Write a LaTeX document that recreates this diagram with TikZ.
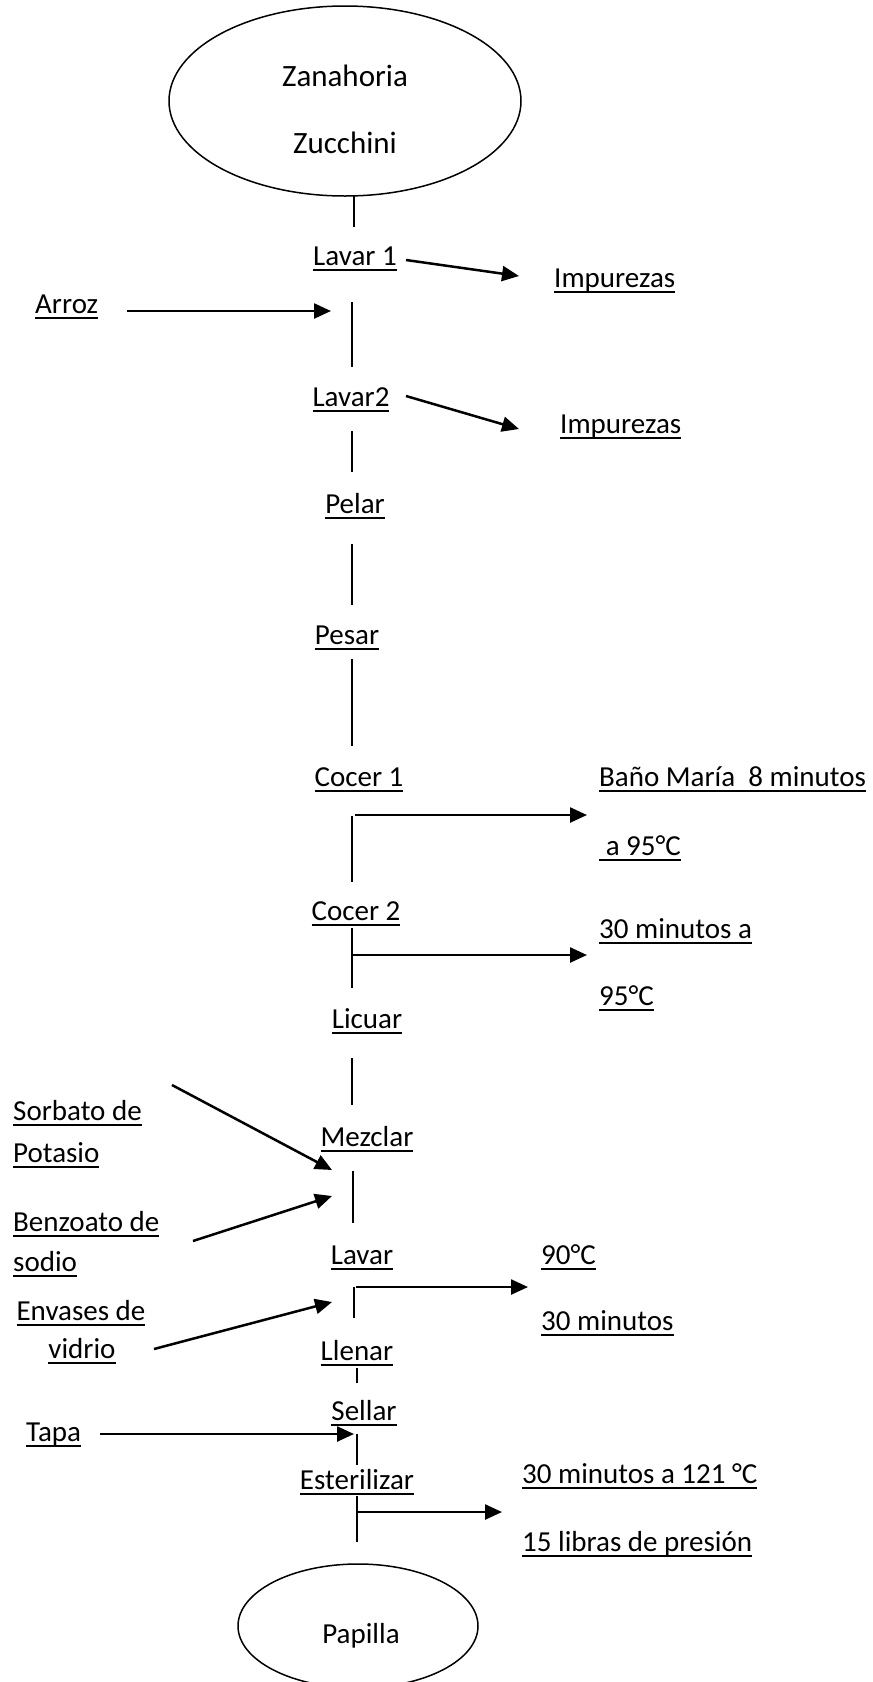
\documentclass[tikz,border=0pt]{standalone}
\usepackage{fontspec}
\setmainfont{Carlito}
\usetikzlibrary{arrows.meta,shapes.geometric}

\newcommand\ulbox[1]{\leavevmode\setbox0\hbox{#1}\rlap{\rule[-5.3pt]{\wd0}{2pt}}\box0}

\begin{document}
\begin{tikzpicture}[x=1pt,y=-1pt,
	txt/.style={inner sep=0pt,font=\fontsize{29}{35}\selectfont,text height=20pt,text depth=7pt},
	big/.style={txt,font=\fontsize{31}{37}\selectfont},
	seg/.style={line width=1.5pt},
	flow/.style={line width=2.5pt,-{Triangle[length=17pt,width=15pt]}},
	oval/.style={draw,ellipse,line width=1.5pt,inner sep=0pt}]
	\useasboundingbox (0,0) rectangle (873,1682);

	\node[oval,minimum width=352pt,minimum height=190pt] (materia) at (345,101) {};
	\node[big] (zanahoria) at (345,80) {Zanahoria};
	\node[big] (zucchini) at (345,147) {Zucchini};

	\node[txt] (lavarA) at (355,259) {\ulbox{Lavar 1}};
	\node[txt,anchor=west] (impA) at (554,281) {\ulbox{Impurezas}};
	\node[txt,anchor=west] (arroz) at (35,307) {\ulbox{Arroz}};
	\node[txt] (lavarB) at (351,400) {\ulbox{Lavar2}};
	\node[txt,anchor=west] (impB) at (560,427) {\ulbox{Impurezas}};
	\node[txt] (pelar) at (355,507) {\ulbox{Pelar}};
	\node[txt] (pesar) at (347,638) {\ulbox{Pesar}};
	\node[txt] (cocerA) at (359,780) {\ulbox{Cocer 1}};
	\node[txt,anchor=west] (banoA) at (599,780) {\ulbox{Baño María\ \ 8 minutos}};
	\node[txt,anchor=west] (banoB) at (599,849) {\ulbox{\ a 95°C}};
	\node[txt] (cocerB) at (356,914) {\ulbox{Cocer 2}};
	\node[txt,anchor=west] (tiempoA) at (599,932) {\ulbox{30 minutos a}};
	\node[txt,anchor=west] (tiempoB) at (599,999) {\ulbox{95°C}};
	\node[txt] (licuar) at (367,1022) {\ulbox{Licuar}};
	\node[txt,anchor=west] (sorbatoA) at (13,1114) {\ulbox{Sorbato de}};
	\node[txt,anchor=west] (sorbatoB) at (13,1156) {\ulbox{Potasio}};
	\node[txt] (mezclar) at (367,1140) {\ulbox{Mezclar}};
	\node[txt,anchor=west] (benzoatoA) at (13,1225) {\ulbox{Benzoato de}};
	\node[txt,anchor=west] (benzoatoB) at (13,1265) {\ulbox{sodio}};
	\node[txt] (lavar) at (362,1258) {\ulbox{Lavar}};
	\node[txt,anchor=west] (temp) at (541,1258) {\ulbox{90°C}};
	\node[txt,anchor=west] (tiempo) at (541,1324) {\ulbox{30 minutos}};
	\node[txt] (envasesA) at (81,1314) {\ulbox{Envases de}};
	\node[txt] (envasesB) at (82,1352) {\ulbox{vidrio}};
	\node[txt] (llenar) at (357,1354) {\ulbox{Llenar}};
	\node[txt] (sellar) at (364,1414) {\ulbox{Sellar}};
	\node[txt,anchor=west] (tapa) at (26,1435) {\ulbox{Tapa}};
	\node[txt] (esterilizar) at (357,1483) {\ulbox{Esterilizar}};
	\node[txt,anchor=west] (esterA) at (522,1477) {\ulbox{30 minutos a 121 °C}};
	\node[txt,anchor=west] (esterB) at (522,1545) {\ulbox{15 libras de presión}};

	\node[oval,minimum width=240pt,minimum height=124pt] (papilla) at (358,1626) {};
	\node[txt] (papillaT) at (361,1637) {Papilla};

	\draw[seg] (354,196) -- (354,227);
	\draw[seg] (352,302) -- (352,367);
	\draw[seg] (352,431) -- (352,472);
	\draw[seg] (352,544) -- (352,605);
	\draw[seg] (352,659) -- (352,746);
	\draw[seg] (352,816) -- (352,882);
	\draw[seg] (352,928) -- (352,988);
	\draw[seg] (352,1058) -- (352,1105);
	\draw[seg] (353,1171) -- (353,1223);
	\draw[seg] (354,1287) -- (354,1318);
	\draw[seg] (357,1368) -- (357,1383);
	\draw[seg] (357,1434) -- (357,1465);
	\draw[seg] (357,1496) -- (357,1542);

	\draw[flow] (406,260) -- (519,276);
	\draw[flow] (127,311) -- (331,311);
	\draw[flow] (406,396) -- (519,429);
	\draw[flow] (355,815) -- (587,815);
	\draw[flow] (352,955) -- (587,955);
	\draw[flow] (172,1085) -- (332,1170);
	\draw[flow] (193,1241) -- (332,1196);
	\draw[flow] (356,1287) -- (528,1287);
	\draw[flow] (154,1349) -- (332,1302);
	\draw[flow] (100,1434) -- (354,1434);
	\draw[flow] (357,1512) -- (502,1512);
\end{tikzpicture}
\end{document}
